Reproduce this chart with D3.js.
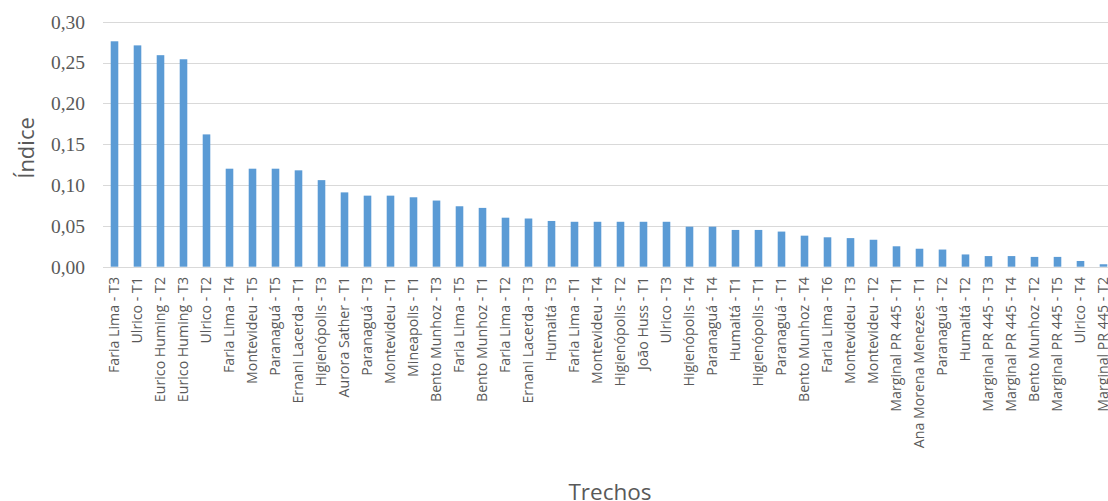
<!DOCTYPE html>
<html><head><meta charset="utf-8">
<script src="https://cdn.jsdelivr.net/npm/d3@7"></script>
<style>body{margin:0;background:#fff;overflow:hidden}svg{display:block}</style>
</head><body>
<svg id="c" width="1108" height="501"></svg>
<script>
const categories = ["Faria Lima - T3","Ulrico - T1","Eurico Huming - T2","Eurico Huming - T3","Ulrico - T2","Faria Lima - T4","Montevideu - T5","Paranaguá - T5","Ernani Lacerda - T1","Higienópolis - T3","Aurora Sather - T1","Paranaguá - T3","Montevideu - T1","Mineapolis - T1","Bento Munhoz - T3","Faria Lima - T5","Bento Munhoz - T1","Faria Lima - T2","Ernani Lacerda - T3","Humaitá - T3","Faria Lima - T1","Montevideu - T4","Higienópolis - T2","João Huss - T1","Ulrico - T3","Higienópolis - T4","Paranaguá - T4","Humaitá - T1","Higienópolis - T1","Paranaguá - T1","Bento Munhoz - T4","Faria Lima - T6","Montevideu - T3","Montevideu - T2","Marginal PR 445 - T1","Ana Morena Menezes - T1","Paranaguá - T2","Humaitá - T2","Marginal PR 445 - T3","Marginal PR 445 - T4","Bento Munhoz - T2","Marginal PR 445 - T5","Ulrico - T4","Marginal PR 445 - T2"];
const values = [0.276,0.271,0.259,0.254,0.162,0.120,0.120,0.120,0.118,0.106,0.091,0.087,0.087,0.085,0.081,0.074,0.072,0.060,0.059,0.056,0.055,0.055,0.055,0.055,0.055,0.049,0.049,0.045,0.045,0.043,0.038,0.036,0.035,0.033,0.025,0.022,0.021,0.015,0.013,0.013,0.012,0.012,0.007,0.003];
const yTicks = [0,0.05,0.10,0.15,0.20,0.25,0.30];
const yTitle = "Índice";
const xTitle = "Trechos";

const svg = d3.select("#c");
const x = d3.scaleBand().domain(categories).range([103, 1115]).paddingInner(0.67).paddingOuter(0.335);
const y = d3.scaleLinear().domain([0, 0.30]).range([266.7, 21.7]);
const fmt = v => d3.format(".2f")(v).replace(".", ",");

// gridlines
svg.append("g").selectAll("line").data(yTicks).join("line")
  .attr("x1", 103).attr("x2", 1108)
  .attr("y1", d => Math.round(y(d)) + 0.5).attr("y2", d => Math.round(y(d)) + 0.5)
  .attr("stroke", "#d9d9d9").attr("stroke-width", 1);

// y tick labels
const yAxis = d3.axisLeft(y).tickValues(yTicks).tickFormat(fmt).tickSize(0).tickPadding(0);
const ga = svg.append("g").attr("transform", "translate(85,0)").call(yAxis);
ga.select(".domain").remove();
ga.selectAll("text").attr("font-family", "'Liberation Serif', serif").attr("font-size", 19.5).attr("fill", "#595959").attr("dy", "0.33em");

// bars
svg.append("g").selectAll("rect").data(values).join("rect")
  .attr("x", (d, i) => x(categories[i]))
  .attr("width", x.bandwidth())
  .attr("y", d => y(d))
  .attr("height", d => y(0) - y(d))
  .attr("fill", "#5b9bd5");

// x labels
const xAxis = d3.axisBottom(x).tickSize(0).tickPadding(0);
const gx = svg.append("g").attr("transform", "translate(0,277)").call(xAxis);
gx.select(".domain").remove();
gx.selectAll("text")
  .attr("font-family", "'Open Sans', sans-serif").attr("font-size", 14.2).attr("fill", "#595959")
  .attr("text-anchor", "end").attr("transform", "rotate(-90)")
  .attr("x", 0).attr("y", 0).attr("dy", "0.35em");

svg.append("text").attr("transform", "translate(34,148) rotate(-90)")
  .attr("text-anchor", "middle").attr("font-family", "'Open Sans', sans-serif")
  .attr("font-size", 22).attr("fill", "#595959").text(yTitle);
svg.append("text").attr("x", 610).attr("y", 500)
  .attr("text-anchor", "middle").attr("font-family", "'Open Sans', sans-serif")
  .attr("font-size", 22.5).attr("fill", "#595959").text(xTitle);
</script>
</body></html>
